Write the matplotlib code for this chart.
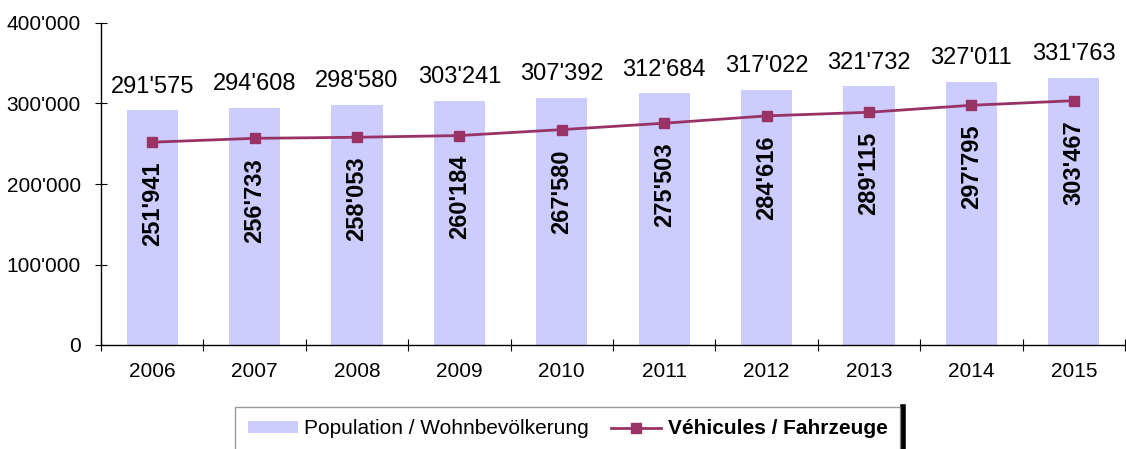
import numpy as np
import matplotlib.pyplot as plt
from matplotlib.lines import Line2D
from matplotlib.ticker import FuncFormatter

plt.rcParams['font.family'] = ['Liberation Sans', 'DejaVu Sans']

# data
years = ['2006', '2007', '2008', '2009', '2010', '2011', '2012', '2013', '2014', '2015']
population = [291575, 294608, 298580, 303241, 307392, 312684, 317022, 321732, 327011, 331763]
vehicles = [251941, 256733, 258053, 260184, 267580, 275503, 284616, 289115, 297795, 303467]

def swiss(v, pos=None):
    return f"{int(v):,}".replace(",", "'")

fig = plt.figure(figsize=(11.26, 4.49), dpi=100)
ax = fig.add_axes([101/1126, 1-345/449, 1024/1126, 322/449])

x = np.arange(len(years))
bars = ax.bar(x, population, width=0.5, color='#ccccff', label='Population / Wohnbevölkerung', zorder=1)
line, = ax.plot(x, vehicles, color='#993366', linewidth=2, marker='s', markersize=7.5,
                label='Véhicules / Fahrzeuge', zorder=3)

# value labels
for xi, p in zip(x, population):
    ax.annotate(swiss(p), (xi, p), xytext=(0, 9), textcoords='offset points',
                ha='center', va='bottom', fontsize=17)
for xi, v in zip(x, vehicles):
    ax.annotate(swiss(v), (xi, v), xytext=(0, -14), textcoords='offset points',
                ha='center', va='top', fontsize=17, fontweight='bold', rotation=90)

ax.set_xlim(-0.5, len(years) - 0.5)
ax.set_ylim(0, 400000)
ax.set_yticks([0, 100000, 200000, 300000, 400000])
ax.yaxis.set_major_formatter(FuncFormatter(swiss))
ax.set_xticks(x)
ax.set_xticklabels(years)
ax.set_xticks(np.arange(len(years) + 1) - 0.5, minor=True)
ax.tick_params(axis='x', which='major', length=0, pad=12, labelsize=15)
ax.tick_params(axis='x', which='minor', length=8, direction='inout', width=0.8)
ax.tick_params(axis='y', length=9, direction='inout', width=0.8, labelsize=15, pad=10)

for s in ['top', 'right']:
    ax.spines[s].set_visible(False)
ax.spines['left'].set_linewidth(1)
ax.spines['bottom'].set_linewidth(1)

leg = fig.legend([bars, line], ['Population / Wohnbevölkerung', 'Véhicules / Fahrzeuge'],
                 loc='upper left', bbox_to_anchor=(235/1126, 1-407/449), ncol=2,
                 fontsize=15, frameon=True, fancybox=False, edgecolor='#808080',
                 handlelength=2.4, handleheight=0.55, columnspacing=1.1, handletextpad=0.3,
                 borderpad=0.6, borderaxespad=0)
leg.get_frame().set_linewidth(1)
leg.get_texts()[1].set_fontweight('bold')

# thick black edge at the right of the legend box
fig.canvas.draw()
bb = leg.get_window_extent().transformed(fig.transFigure.inverted())
fig.add_artist(Line2D([bb.x1 + 3/1126, bb.x1 + 3/1126], [0, 1-407/449], color='black', linewidth=4))

fig.savefig('out.png', dpi=100)
